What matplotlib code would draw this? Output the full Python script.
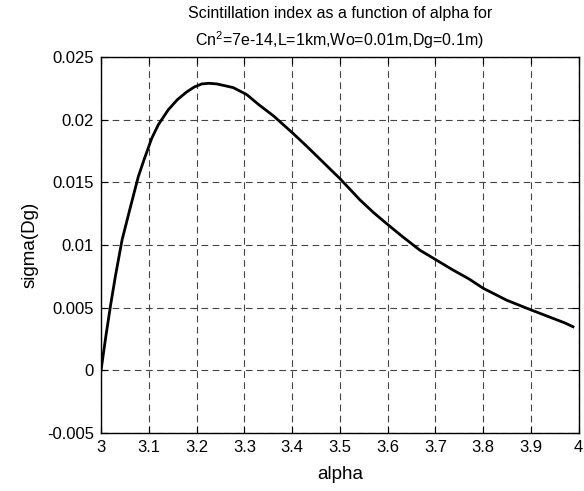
import matplotlib
matplotlib.use('Agg')
import matplotlib.pyplot as plt

# values
alpha = [3.0, 3.01, 3.02, 3.03, 3.044, 3.06, 3.078, 3.09, 3.106, 3.12,
         3.141, 3.16, 3.179, 3.195, 3.211, 3.226, 3.242, 3.26, 3.277, 3.305,
         3.33, 3.361, 3.402, 3.43, 3.465, 3.5, 3.542, 3.57, 3.598, 3.63,
         3.667, 3.702, 3.737, 3.77, 3.8, 3.849, 3.897, 3.946, 3.97, 3.988]
sigma = [0.0, 0.0027, 0.0052, 0.0075, 0.0104, 0.0128, 0.01545, 0.0168, 0.0185, 0.0196,
         0.0208, 0.0216, 0.0222, 0.0226, 0.02285, 0.0229, 0.02285, 0.0227, 0.02255, 0.0220,
         0.0212, 0.0203, 0.0189, 0.0179, 0.0166, 0.0153, 0.0136, 0.0126, 0.0117, 0.0107,
         0.0096, 0.0088, 0.0080, 0.0073, 0.00655, 0.0056, 0.00487, 0.00415, 0.0038, 0.00348]

xticks = [3, 3.1, 3.2, 3.3, 3.4, 3.5, 3.6, 3.7, 3.8, 3.9, 4]
xticklabels = ['3', '3.1', '3.2', '3.3', '3.4', '3.5', '3.6', '3.7', '3.8', '3.9', '4']
yticks = [-0.005, 0, 0.005, 0.01, 0.015, 0.02, 0.025]
yticklabels = ['-0.005', '0', '0.005', '0.01', '0.015', '0.02', '0.025']

plt.rcParams['font.family'] = ['Liberation Sans', 'DejaVu Sans']
plt.rcParams['mathtext.fontset'] = 'custom'
plt.rcParams['mathtext.rm'] = 'Liberation Sans'


def main():
    fig = plt.figure(figsize=(5.84, 4.91), dpi=100)
    ax = fig.add_axes([0.173, 0.118, 0.818, 0.766])
    ax.plot(alpha, sigma, color='black', linewidth=2)

    ax.set_xlim(3, 4)
    ax.set_ylim(-0.005, 0.025)
    ax.set_xticks(xticks)
    ax.set_xticklabels(xticklabels)
    ax.set_yticks(yticks)
    ax.set_yticklabels(yticklabels)
    ax.tick_params(direction='in', top=True, right=True, labelsize=12,
                   length=5, width=0.8, pad=5)
    ax.grid(True, linestyle=(0, (6, 4)), color='#444444', linewidth=0.8)
    for s in ax.spines.values():
        s.set_linewidth(1.0)

    ax.set_xlabel('alpha', fontsize=13.5, labelpad=8)
    ax.set_ylabel('sigma(Dg)', fontsize=13.5, labelpad=6)
    ax.set_title('Scintillation index as a function of alpha for\n'
                 r'Cn$^{\mathrm{2}}$=7e-14,L=1km,Wo=0.01m,Dg=0.1m)',
                 fontsize=11.5, linespacing=1.5, pad=8)

    fig.savefig('out.png', dpi=100)


if __name__ == "__main__":
    main()
